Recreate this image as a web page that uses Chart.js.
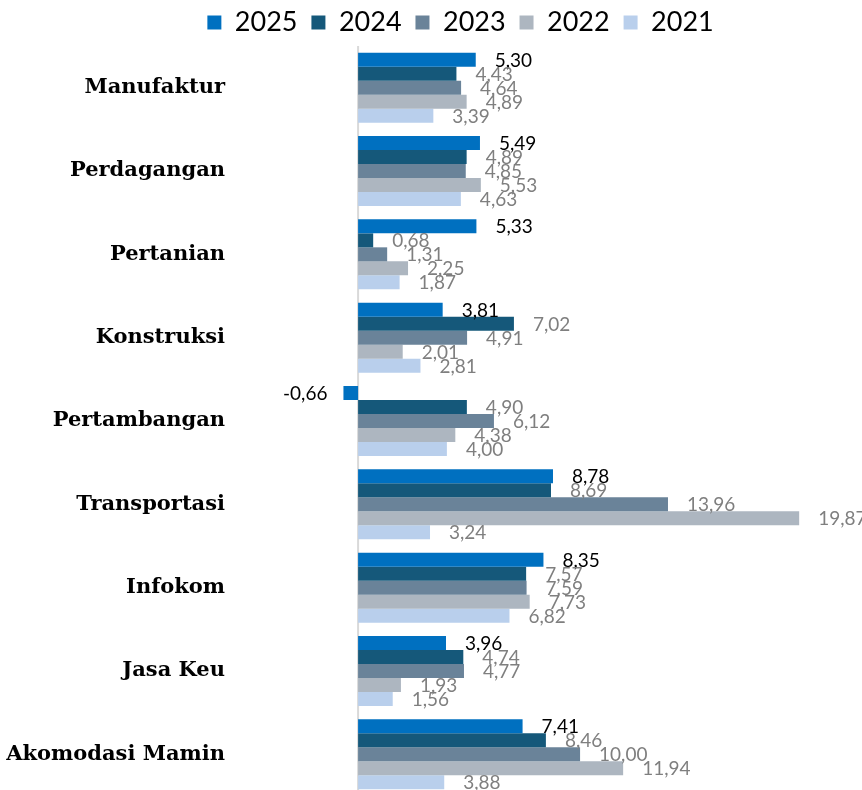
<!DOCTYPE html>
<html>
<head>
<meta charset="utf-8">
<script src="https://cdn.jsdelivr.net/npm/chart.js@4.4.1/dist/chart.umd.min.js"></script>
<style>
  html, body { margin: 0; padding: 0; background: #fff; overflow: hidden; }
  #wrap { position: relative; width: 862px; height: 796px; }
</style>
</head>
<body>
<div id="wrap"><canvas id="chart"></canvas></div>
<script>
var categories = ['Manufaktur', 'Perdagangan', 'Pertanian', 'Konstruksi', 'Pertambangan',
                  'Transportasi', 'Infokom', 'Jasa Keu', 'Akomodasi Mamin'];
var years = ['2025', '2024', '2023', '2022', '2021'];
var v2025 = [5.30, 5.49, 5.33, 3.81, -0.66, 8.78, 8.35, 3.96, 7.41];
var v2024 = [4.43, 4.89, 0.68, 7.02, 4.90, 8.69, 7.57, 4.74, 8.46];
var v2023 = [4.64, 4.85, 1.31, 4.91, 6.12, 13.96, 7.59, 4.77, 10.00];
var v2022 = [4.89, 5.53, 2.25, 2.01, 4.38, 19.87, 7.73, 1.93, 11.94];
var v2021 = [3.39, 4.63, 1.87, 2.81, 4.00, 3.24, 6.82, 1.56, 3.88];
var colors = ['#0070c0', '#15587a', '#6a8399', '#adb6c0', '#b9cfec'];
var labelColors = ['#000000', '#7f7f7f', '#7f7f7f', '#7f7f7f', '#7f7f7f'];

var series = [v2025, v2024, v2023, v2022, v2021];

// zero line + value labels next to bar ends
var valueLabels = {
    id: 'valueLabels',
    beforeDraw: function(chart) {
        // legend in the original sits a bit right of the page centre
        if (chart.legend) chart.legend.left = 66;
    },
    beforeDatasetsDraw: function(chart) {
        var ctx = chart.ctx, a = chart.chartArea;
        var x0 = chart.scales.x.getPixelForValue(0);
        ctx.save();
        ctx.strokeStyle = '#d9d9d9';
        ctx.lineWidth = 2;
        ctx.beginPath();
        ctx.moveTo(x0, a.top);
        ctx.lineTo(x0, a.bottom);
        ctx.stroke();
        ctx.restore();
    },
    afterDatasetsDraw: function(chart) {
        var ctx = chart.ctx;
        ctx.save();
        ctx.font = '19px Lato';
        ctx.textBaseline = 'middle';
        chart.data.datasets.forEach(function(ds, i) {
            var meta = chart.getDatasetMeta(i);
            meta.data.forEach(function(bar, j) {
                var v = ds.data[j];
                var txt = v.toFixed(2).replace('.', ',');
                ctx.fillStyle = labelColors[i];
                if (v < 0) {
                    ctx.textAlign = 'right';
                    ctx.fillText(txt, bar.x - 16, bar.y + 1);
                } else {
                    ctx.textAlign = 'left';
                    ctx.fillText(txt, bar.x + 19, bar.y + 1);
                }
            });
        });
        ctx.restore();
    }
};

new Chart(document.getElementById('chart'), {
    type: 'bar',
    data: {
        labels: categories,
        datasets: years.map(function(y, i) {
            return {
                label: y,
                data: series[i],
                backgroundColor: colors[i],
                borderWidth: 0,
                categoryPercentage: 0.84,
                barPercentage: 1.0
            };
        })
    },
    options: {
        indexAxis: 'y',
        responsive: true,
        maintainAspectRatio: false,
        animation: false,
        layout: { padding: { left: 0, right: 0, top: 2, bottom: 0 } },
        plugins: {
            legend: {
                position: 'top',
                labels: {
                    boxWidth: 14,
                    boxHeight: 14,
                    padding: 7,
                    color: '#000',
                    font: { family: 'Lato', size: 27, lineHeight: 1.0 },
                    generateLabels: function(chart) {
                        var items = Chart.defaults.plugins.legend.labels.generateLabels(chart);
                        items.forEach(function(it) { it.text = it.text + ' '; });
                        return items;
                    }
                }
            },
            tooltip: { enabled: false }
        },
        scales: {
            x: {
                display: false,
                min: -5.5,
                max: 22.7
            },
            y: {
                afterFit: function(scale) {
                    scale.width = 236;
                    scale.paddingTop = 0;
                    scale.paddingBottom = 0;
                },
                border: { display: false },
                grid: { display: false, drawTicks: false },
                ticks: {
                    padding: 11,
                    color: '#000',
                    font: { family: 'DejaVu Serif', weight: 'bold', size: 21 }
                }
            }
        }
    },
    plugins: [valueLabels]
});
</script>
</body>
</html>
